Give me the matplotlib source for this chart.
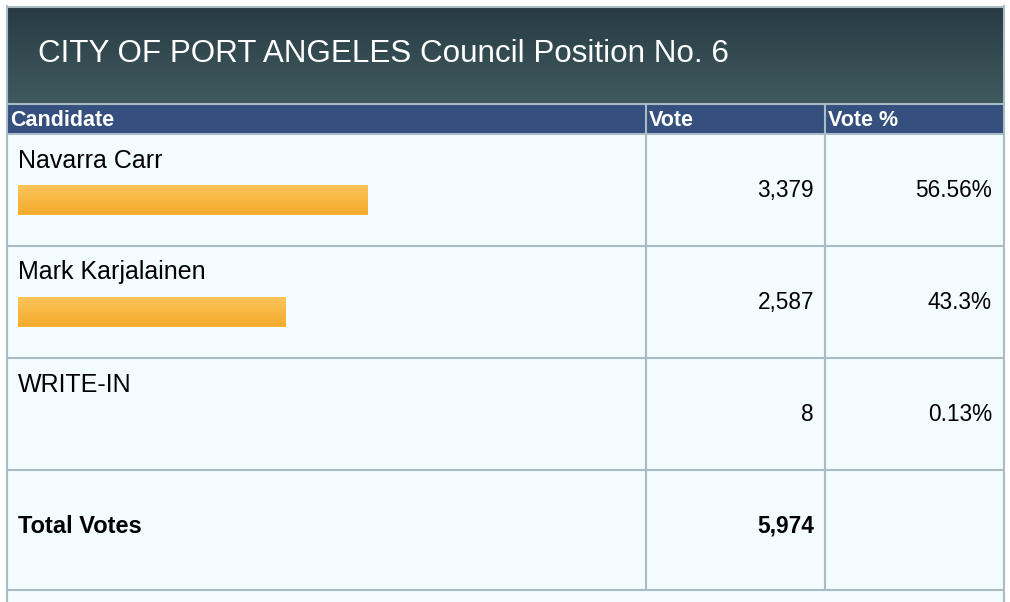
import matplotlib
matplotlib.use("Agg")
import matplotlib.pyplot as plt
import numpy as np
from matplotlib.colors import LinearSegmentedColormap
from matplotlib.patches import Rectangle

plt.rcParams['font.family'] = ['Liberation Sans', 'DejaVu Sans']

# ---- data ----
title = "CITY OF PORT ANGELES Council Position No. 6"
columns = ["Candidate", "Vote", "Vote %"]
candidates = ["Navarra Carr", "Mark Karjalainen", "WRITE-IN"]
votes = [3379, 2587, 8]
vote_pct = [56.56, 43.3, 0.13]
total_label = "Total Votes"
total_votes = 5974

W, H = 1010, 602
fig = plt.figure(figsize=(W / 100, H / 100), dpi=100)
fig.patch.set_facecolor("white")
ax = fig.add_axes([0, 0, 1, 1])
ax.set_xlim(0, W)
ax.set_ylim(H, 0)
ax.axis("off")

line_c = "#a9bcc5"
body_c = "#f3fcfe"
head_c = "#354f7e"
lw = 1.5

# title gradient band
grad = np.linspace(0, 1, 256).reshape(-1, 1)
cm_head = LinearSegmentedColormap.from_list("h", ["#283b45", "#3f5b5e"])
ax.imshow(grad, cmap=cm_head, aspect="auto", extent=[7, 1004, 104, 7], zorder=1)

# column header band
ax.add_patch(Rectangle((7, 104), 997, 29, facecolor=head_c, edgecolor="none", zorder=1))
# body
ax.add_patch(Rectangle((7, 133), 997, H - 133, facecolor=body_c, edgecolor="none", zorder=1))

# row geometry
row_top = 133.5
row_h = 112
total_h = 120
row_tops = [row_top + i * row_h for i in range(len(candidates))]
total_top = row_top + len(candidates) * row_h
total_bottom = total_top + total_h
col_x = [7, 646, 825, 1004]

# grid lines
hl = [104, 133.5] + [t + row_h for t in row_tops] + [total_bottom]
for y in hl:
    ax.plot([7, 1004], [y, y], color=line_c, lw=lw, zorder=3, solid_capstyle="butt")
for x in col_x[1:3]:
    ax.plot([x, x], [104, total_bottom], color=line_c, lw=lw, zorder=3, solid_capstyle="butt")
ax.plot([7, 7], [6, H], color=line_c, lw=lw, zorder=3)
ax.plot([1004, 1004], [6, H], color=line_c, lw=lw, zorder=3)
ax.plot([7, 1004], [6.5, 6.5], color=line_c, lw=lw, zorder=3)

# texts
ax.text(38, 54, title, color="white", fontsize=22.6, va="center", ha="left", zorder=4)
for x, c in zip([10, 649, 828], columns):
    ax.text(x, 120, c, color="white", fontsize=15.5, fontweight="bold", va="center", zorder=4)

for top, name, v, p in zip(row_tops, candidates, votes, vote_pct):
    ax.text(18, top + 27, name, fontsize=18, va="center", ha="left", color="black", zorder=4)
    ax.text(814, top + 57, f"{v:,}", fontsize=16.3, va="center", ha="right", color="black", zorder=4)
    ax.text(992, top + 57, f"{p:g}%", fontsize=16.3, va="center", ha="right", color="black", zorder=4)

ax.text(18, total_top + 57, total_label, fontsize=17, fontweight="bold", va="center", ha="left", zorder=4)
ax.text(814, total_top + 57, f"{total_votes:,}", fontsize=16.3, fontweight="bold", va="center", ha="right", zorder=4)

# bars in a percent-scaled axes (bars under 1% render as zero pixels in the source)
bx = fig.add_axes([18 / W, 0, 618 / W, 1])
bx.set_xlim(0, 100)
bx.set_ylim(H, 0)
bx.axis("off")
bx.patch.set_alpha(0)
bar_y = [t + 51.5 + 14.75 for t in row_tops]
shown = [p if p >= 1 else 0 for p in vote_pct]
bars = bx.barh(bar_y, shown, height=29.5, left=0, color="#f7b43d", edgecolor="none", zorder=2)
cm_bar = LinearSegmentedColormap.from_list("b", ["#fcc65b", "#f4aa2c"])
for b in bars:
    x0, y0, w, h = b.get_x(), b.get_y(), b.get_width(), b.get_height()
    if w <= 0:
        continue
    im = bx.imshow(grad, cmap=cm_bar, aspect="auto", extent=[x0, x0 + w, y0 + h, y0], zorder=3)
    im.set_clip_path(b)
bx.set_xlim(0, 100)
bx.set_ylim(H, 0)

fig.savefig("out.png", dpi=100, facecolor="white")
